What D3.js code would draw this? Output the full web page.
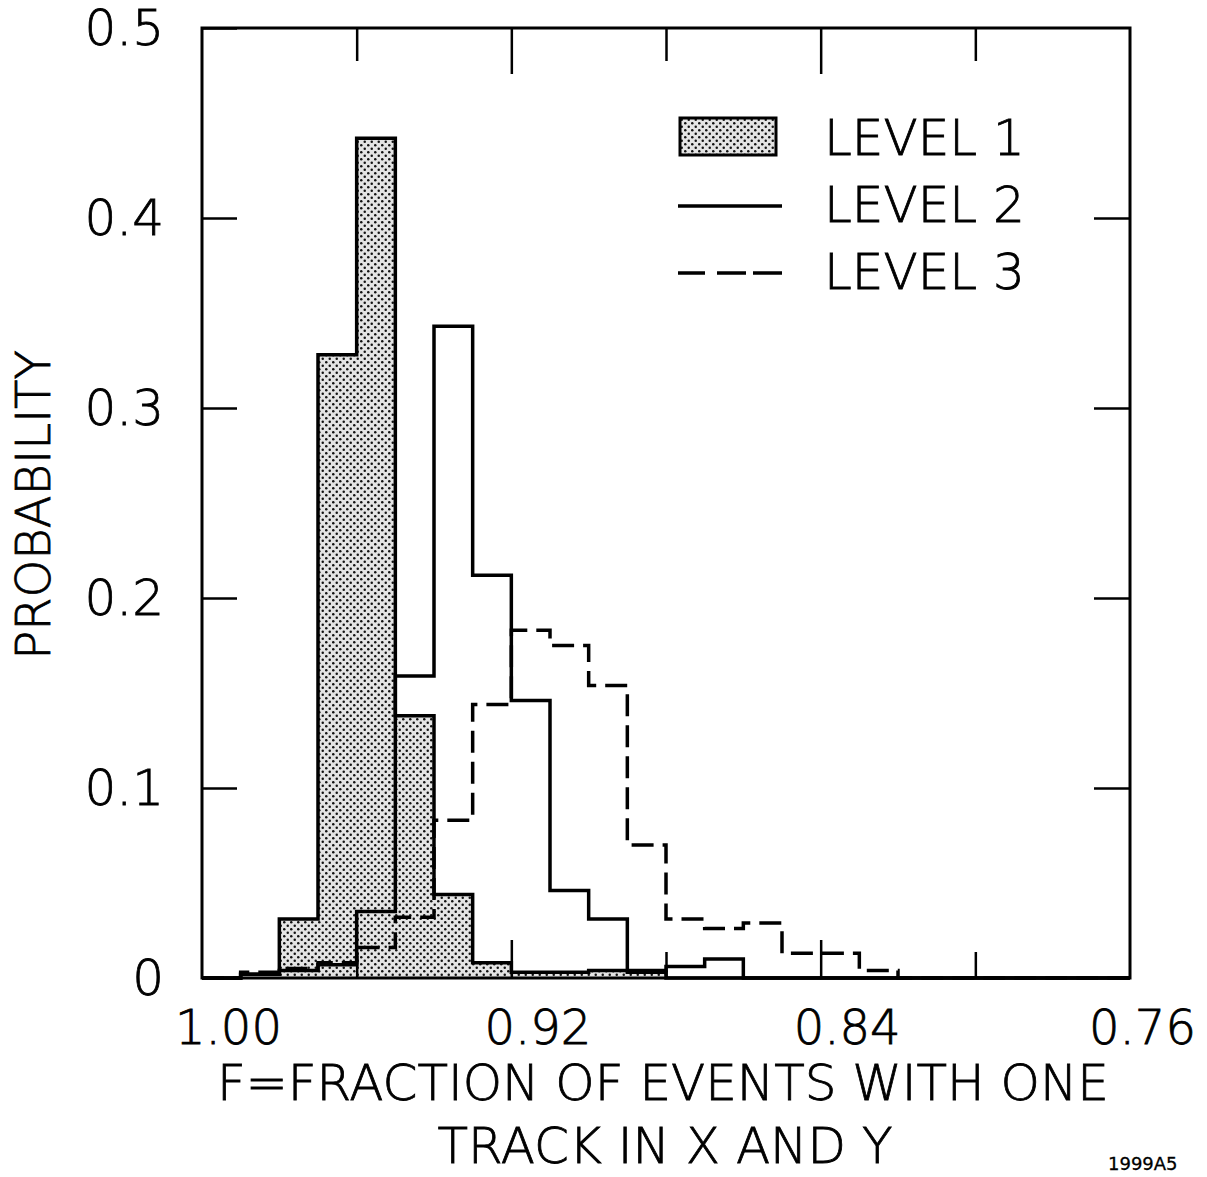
<!DOCTYPE html>
<html>
<head>
<meta charset="utf-8">
<script src="https://cdn.jsdelivr.net/npm/d3@7/dist/d3.min.js"></script>
<style>
    body { margin: 0; background: #fff; }
    text { font-family: "DejaVu Sans", sans-serif; font-weight: 200; fill: #000; stroke: #000; stroke-width: 0.8px; }
</style>
</head>
<body>
<svg id="chart" width="1207" height="1177"></svg>
<script>
// bin edges of F, the axis runs from 1.00 down to 0.76
const binEdges = [1.00, 0.99, 0.98, 0.97, 0.96, 0.95, 0.94, 0.93, 0.92, 0.91, 0.90, 0.89,
                  0.88, 0.87, 0.86, 0.85, 0.84, 0.83, 0.82, 0.81, 0.80, 0.79, 0.78, 0.77, 0.76];

// probability in each bin (bin i goes from binEdges[i] to binEdges[i+1])
const level1 = [0, 0.002, 0.031, 0.328, 0.442, 0.138, 0.044, 0.008, 0.003, 0.003, 0.004, 0.003,
                0, 0, 0, 0, 0, 0, 0, 0, 0, 0, 0, 0];
const level2 = [0, 0.002, 0.004, 0.007, 0.035, 0.159, 0.343, 0.212, 0.146, 0.046, 0.031, 0.004,
                0.006, 0.010, 0, 0, 0, 0, 0, 0, 0, 0, 0, 0];
const level3 = [0, 0.003, 0.005, 0.008, 0.016, 0.032, 0.083, 0.144, 0.183, 0.175, 0.154, 0.070,
                0.031, 0.026, 0.029, 0.013, 0.013, 0.004, 0, 0, 0, 0, 0, 0];

const xLabelTicks = [1.00, 0.92, 0.84, 0.76];
const xMinorTicks = [0.96, 0.88, 0.80];
const yTicks = [0, 0.1, 0.2, 0.3, 0.4, 0.5];
const legendLabels = ["LEVEL 1", "LEVEL 2", "LEVEL 3"];

class StepHistogram {
    margin = {
        top: 28, right: 77, bottom: 199, left: 202
    };

    constructor(svg, width = 1207, height = 1177) {
        this.svg = svg;
        this.width = width;
        this.height = height;
        this.innerW = width - this.margin.left - this.margin.right;
        this.innerH = height - this.margin.top - this.margin.bottom;
    }

    initialize() {
        this.svg = d3.select(this.svg);

        // stipple fill for level 1
        const pat = this.svg.append("defs").append("pattern")
            .attr("id", "stipple")
            .attr("patternUnits", "userSpaceOnUse")
            .attr("width", 7).attr("height", 7);
        pat.append("rect").attr("width", 7).attr("height", 7).attr("fill", "#e4e4e4");
        pat.append("circle").attr("cx", 1.75).attr("cy", 1.75).attr("r", 1.25).attr("fill", "#111");
        pat.append("circle").attr("cx", 5.25).attr("cy", 5.25).attr("r", 1.25).attr("fill", "#111");

        this.container = this.svg.append("g")
            .attr("transform", `translate(${this.margin.left}, ${this.margin.top})`);

        this.x = d3.scaleLinear().domain([1.00, 0.76]).range([0, this.innerW]);
        this.y = d3.scaleLinear().domain([0, 0.5]).range([this.innerH, 0]);
    }

    stepPoints(values) {
        return binEdges.map((e, i) => ({edge: e, value: i < values.length ? values[i] : 0}));
    }

    update() {
        const x = this.x, y = this.y, g = this.container;

        const area = d3.area()
            .x(d => x(d.edge)).y0(y(0)).y1(d => y(d.value))
            .curve(d3.curveStepAfter);
        const line = d3.line()
            .x(d => x(d.edge)).y(d => y(d.value))
            .curve(d3.curveStepAfter);

        g.append("path")
            .attr("d", area(this.stepPoints(level1)))
            .attr("fill", "url(#stipple)");

        const series = [
            {values: level1, dash: null},
            {values: level2, dash: null},
            {values: level3, dash: "22 9"}
        ];
        g.selectAll("path.step")
            .data(series)
            .join("path")
            .attr("class", "step")
            .attr("d", d => line(this.stepPoints(d.values)))
            .attr("fill", "none")
            .attr("stroke", "#000")
            .attr("stroke-width", 3.5)
            .attr("stroke-dasharray", d => d.dash);

        // frame
        g.append("rect")
            .attr("width", this.innerW).attr("height", this.innerH)
            .attr("fill", "none").attr("stroke", "#000").attr("stroke-width", 3);

        // tick marks on all four sides
        const tickG = (gen, tx, ty) => {
            const a = g.append("g").attr("transform", `translate(${tx}, ${ty})`).call(gen);
            a.select(".domain").remove();
            a.selectAll("line").attr("stroke", "#000").attr("stroke-width", 2.5);
            return a;
        };
        tickG(d3.axisBottom(x).tickValues(xLabelTicks.slice(1, -1)).tickSize(-38).tickFormat(""), 0, this.innerH);
        tickG(d3.axisBottom(x).tickValues(xMinorTicks).tickSize(-26).tickFormat(""), 0, this.innerH);
        tickG(d3.axisTop(x).tickValues(xLabelTicks.slice(1, -1)).tickSize(-46).tickFormat(""), 0, 0);
        tickG(d3.axisTop(x).tickValues(xMinorTicks).tickSize(-33).tickFormat(""), 0, 0);
        tickG(d3.axisRight(y).tickValues(yTicks.slice(1, -1)).tickSize(-36).tickFormat(""), this.innerW, 0);

        // labelled axes
        const yAxis = g.append("g")
            .call(d3.axisLeft(y).tickValues(yTicks).tickSize(-35).tickPadding(38)
                .tickFormat(d => d === 0 ? "0" : d3.format(".1f")(d)));
        yAxis.select(".domain").remove();
        yAxis.selectAll("line").attr("stroke", "#000").attr("stroke-width", 2.5);
        yAxis.selectAll("text").style("font-size", "50px").attr("fill", "#000");

        const xAxis = g.append("g")
            .attr("transform", `translate(0, ${this.innerH})`)
            .call(d3.axisBottom(x).tickValues(xLabelTicks).tickSize(0).tickPadding(32)
                .tickFormat(d3.format(".2f")));
        xAxis.select(".domain").remove();
        xAxis.selectAll("text").style("font-size", "48px").attr("fill", "#000")
            .attr("dx", d => d === 0.76 ? 12 : 26);

        // axis titles
        this.svg.append("text")
            .attr("transform", "translate(50, 505) rotate(-90)")
            .attr("text-anchor", "middle")
            .style("font-size", "48px")
            .text("PROBABILITY");
        this.svg.append("text")
            .attr("x", 663).attr("y", 1100)
            .attr("text-anchor", "middle")
            .style("font-size", "50px")
            .text("F=FRACTION OF EVENTS WITH ONE");
        this.svg.append("text")
            .attr("x", 665).attr("y", 1163)
            .attr("text-anchor", "middle")
            .style("font-size", "50px")
            .text("TRACK IN X AND Y");
        this.svg.append("text")
            .attr("x", 1108).attr("y", 1170)
            .style("font-size", "18px").style("font-weight", 400).style("stroke-width", "0.3px")
            .text("1999A5");

        // legend
        const legend = this.svg.append("g").attr("transform", "translate(680, 118)");
        const rows = legend.selectAll("g")
            .data(legendLabels)
            .join("g")
            .attr("transform", (d, i) => `translate(0, ${i * 67})`);
        rows.filter((d, i) => i === 0).append("rect")
            .attr("width", 96).attr("height", 37)
            .attr("fill", "url(#stipple)").attr("stroke", "#000").attr("stroke-width", 3);
        rows.filter((d, i) => i > 0).append("line")
            .attr("x1", -2).attr("x2", 102).attr("y1", 21).attr("y2", 21)
            .attr("stroke", "#000").attr("stroke-width", 3.5)
            .attr("stroke-dasharray", (d, i) => i === 1 ? "27 12 29 7 30" : null);
        rows.append("text")
            .attr("x", 144).attr("y", 37)
            .style("font-size", "50px")
            .text(d => d);
    }
}

const chart = new StepHistogram(document.getElementById("chart"));
chart.initialize();
chart.update();
</script>
</body>
</html>
